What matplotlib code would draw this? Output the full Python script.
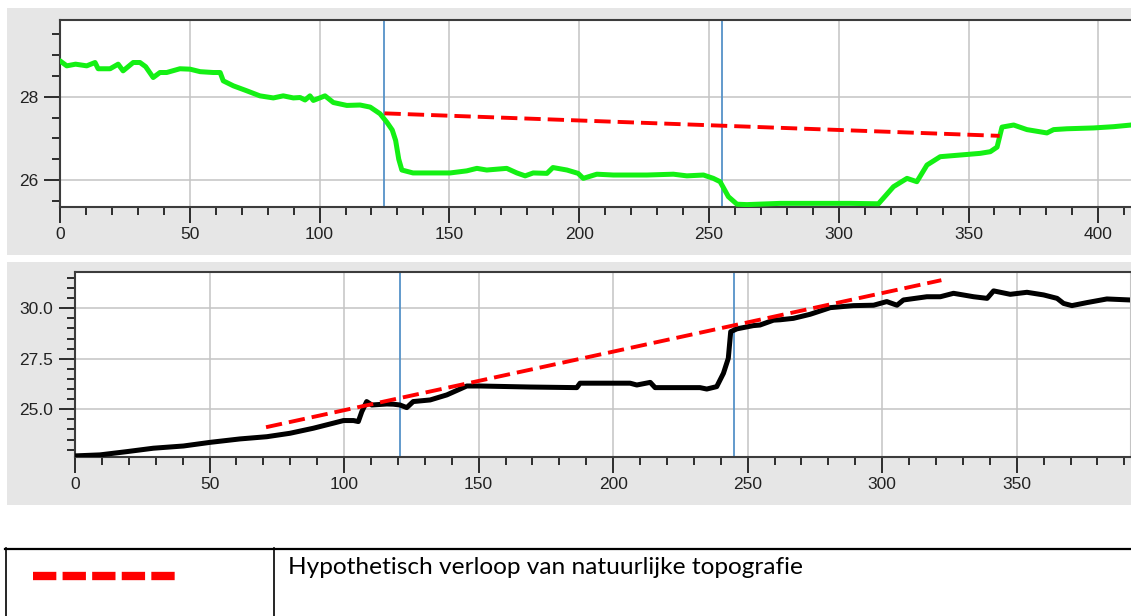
import matplotlib
matplotlib.use("Agg")
import matplotlib.pyplot as plt
from matplotlib.patches import Rectangle
from matplotlib.ticker import MultipleLocator, FormatStrFormatter

# --- data: upper profile (green) ---
top_x = [0, 2.6, 6, 10.3, 13.5, 14.7, 19.3, 22.4, 24.3, 28.2, 30.8, 33, 35.9, 38.5, 41.1, 46.2,
         50.1, 54, 59, 61.7, 62.9, 66.8, 72, 77, 82.2, 86, 89.9, 92.5, 94.4, 96.3, 97.6,
         102.1, 105.3, 110.5, 115.6, 119.5, 123.3, 126, 128, 129.3, 130.5, 131.7, 136,
         142.6, 150.3, 156.7, 160.6, 164.4, 172.1, 176, 179.2, 182.3, 187.6, 189.9, 195.3,
         199.6, 201.6, 206.8, 213.2, 226.1, 236.3, 241.5, 247.9, 251.7, 254.3, 257.5, 260.8,
         264.6, 277.5, 295.4, 304.4, 315.3, 321.1, 326.3, 330.1, 334, 339.1, 346.8, 354.5,
         358.4, 361, 362.9, 367.4, 372.5, 380.2, 382.8, 387.9, 398.2, 405.9, 412.6]
top_y = [28.86, 28.74, 28.78, 28.74, 28.82, 28.67, 28.67, 28.78, 28.62, 28.82, 28.82, 28.72, 28.46,
         28.58, 28.58, 28.67, 28.66, 28.60, 28.58, 28.58, 28.38, 28.26, 28.14, 28.02, 27.97,
         28.02, 27.97, 27.98, 27.92, 28.02, 27.91, 28.02, 27.86, 27.79, 27.80, 27.75, 27.59,
         27.38, 27.20, 26.95, 26.50, 26.24, 26.17, 26.17, 26.17, 26.22, 26.28, 26.24, 26.28,
         26.17, 26.10, 26.17, 26.16, 26.30, 26.24, 26.16, 26.04, 26.14, 26.12, 26.12, 26.14,
         26.10, 26.12, 26.04, 25.96, 25.60, 25.42, 25.41, 25.44, 25.44, 25.44, 25.43, 25.84,
         26.04, 25.96, 26.36, 26.56, 26.60, 26.64, 26.68, 26.79, 27.27, 27.32, 27.21, 27.13,
         27.21, 27.23, 27.25, 27.28, 27.32]
top_marks = [125, 255]
top_hyp_x = [125, 362]
top_hyp_y = [27.6, 27.06]

# --- data: lower profile (black) ---
bot_x = [0, 9.3, 19.2, 29.1, 40.3, 50.2, 61.3, 71.3, 79.9, 88.6, 96, 99.8, 103.5, 105.3,
         106.6, 108.4, 110.3, 115.9, 118.3, 120.8, 123.3, 125.7, 132, 138.2, 145.6, 150.6,
         169.1, 186.5, 187.7, 206.3, 208.8, 213.8, 215.6, 221.2, 232.3, 234.8, 238.5, 241,
         242.8, 243.7, 246, 252.1, 254.6, 259.6, 262.1, 267, 273.2, 280.7, 289.3, 296.8,
         301.7, 305.5, 307.9, 316.6, 321.6, 326.5, 334, 339, 341.4, 347.6, 353.8, 360, 365,
         367.4, 370.5, 376.1, 383.5, 392.2]
bot_y = [22.69, 22.74, 22.90, 23.07, 23.18, 23.36, 23.53, 23.64, 23.81, 24.06, 24.31, 24.44,
         24.44, 24.39, 24.88, 25.38, 25.21, 25.26, 25.25, 25.21, 25.08, 25.38, 25.46, 25.71,
         26.15, 26.15, 26.10, 26.07, 26.29, 26.29, 26.20, 26.33, 26.07, 26.07, 26.07, 26.00,
         26.12, 26.78, 27.52, 28.84, 28.98, 29.14, 29.17, 29.41, 29.43, 29.50, 29.70, 30.03,
         30.13, 30.15, 30.33, 30.15, 30.41, 30.57, 30.57, 30.74, 30.57, 30.49, 30.86, 30.69,
         30.79, 30.66, 30.49, 30.24, 30.13, 30.28, 30.46, 30.41]
bot_marks = [120.8, 245]
bot_hyp_x = [71, 322]
bot_hyp_y = [24.11, 31.39]

legend_text = "Hypothetisch verloop van natuurlijke topografie"

W, H = 1131, 616
plt.rcParams['font.family'] = ['Liberation Sans', 'DejaVu Sans']
fig = plt.figure(figsize=(W / 100, H / 100), dpi=100, facecolor="white")


def px_box(x0, y0, x1, y1):
    # pixel box (top-left origin) -> figure fraction [left, bottom, width, height]
    return [x0 / W, 1 - y1 / H, (x1 - x0) / W, (y1 - y0) / H]


# grey panel backgrounds
for (x0, y0, x1, y1) in [(7, 8, W, 255), (7, 262, W, 505)]:
    l, b, w, h = px_box(x0, y0, x1, y1)
    fig.patches.append(Rectangle((l, b), w, h, transform=fig.transFigure,
                                 facecolor="#e6e6e6", edgecolor="none", zorder=-10))


def style_axes(ax):
    ax.set_facecolor("white")
    ax.grid(True, which="major", color="#c4c4c4", linewidth=1.1)
    ax.set_axisbelow(True)
    for s in ["left", "top", "bottom"]:
        ax.spines[s].set_color("#3c3c3c")
        ax.spines[s].set_linewidth(1.5)
    ax.spines["right"].set_color("#c4c4c4")
    ax.xaxis.set_major_locator(MultipleLocator(50))
    ax.xaxis.set_minor_locator(MultipleLocator(10))
    ax.tick_params(which="both", width=1.4, colors="#2b2b2b", labelcolor="#222222",
                   labelsize=12.5)
    ax.tick_params(which="major", length=11.5)
    ax.tick_params(which="minor", length=6)
    ax.tick_params(axis="x", pad=3)
    ax.tick_params(axis="y", pad=4)


# --- upper panel ---
ax1 = fig.add_axes(px_box(60, 20, W, 206.7))
ax1.yaxis.set_major_locator(MultipleLocator(2))
ax1.yaxis.set_minor_locator(MultipleLocator(0.5))
style_axes(ax1)
ax1.plot(top_x, top_y, color="#14f014", linewidth=3.6, solid_joinstyle="round",
         solid_capstyle="round", zorder=3)
for xv in top_marks:
    ax1.axvline(xv, color="#5592c8", linewidth=1.3, zorder=2)
ax1.plot(top_hyp_x, top_hyp_y, color="#ff0000", linewidth=2.8, dashes=(4.2, 1.8), zorder=4)
ax1.set_xlim(0, 412.6)
ax1.set_ylim(25.36, 29.84)
ax1.spines["right"].set_visible(False)

# --- lower panel ---
ax2 = fig.add_axes(px_box(75, 272.3, 1130, 456.7))
ax2.yaxis.set_major_locator(MultipleLocator(2.5))
ax2.yaxis.set_minor_locator(MultipleLocator(0.5))
ax2.yaxis.set_major_formatter(FormatStrFormatter("%.1f"))
style_axes(ax2)
ax2.plot(bot_x, bot_y, color="black", linewidth=3.6, solid_joinstyle="round",
         solid_capstyle="round", zorder=3)
for xv in bot_marks:
    ax2.axvline(xv, color="#5592c8", linewidth=1.3, zorder=2)
ax2.plot(bot_hyp_x, bot_hyp_y, color="#ff0000", linewidth=2.8, dashes=(4.2, 1.8), zorder=4)
ax2.set_xlim(0, 392.1)
ax2.set_ylim(22.65, 31.78)

# --- legend table underneath ---
lg = fig.add_axes([0, 0, 1, 1], facecolor="none")
lg.set_xlim(0, W)
lg.set_ylim(H, 0)
lg.axis("off")
lg.plot([5, W], [548.5, 548.5], color="black", linewidth=1.6)
lg.plot([5.5, 5.5], [548, H], color="black", linewidth=1.2)
lg.plot([273.5, 273.5], [548, H], color="black", linewidth=1.2)
lg.plot([33, 176], [576, 576], color="#ff0000", linewidth=6, dashes=(2.8, 0.75),
        solid_capstyle="butt", dash_capstyle="butt")
lg.text(288, 568, legend_text, fontsize=17.6, family=["Lato", "DejaVu Sans"],
        va="center", ha="left", color="black")

fig.savefig("out.png", dpi=100, facecolor=fig.get_facecolor())
